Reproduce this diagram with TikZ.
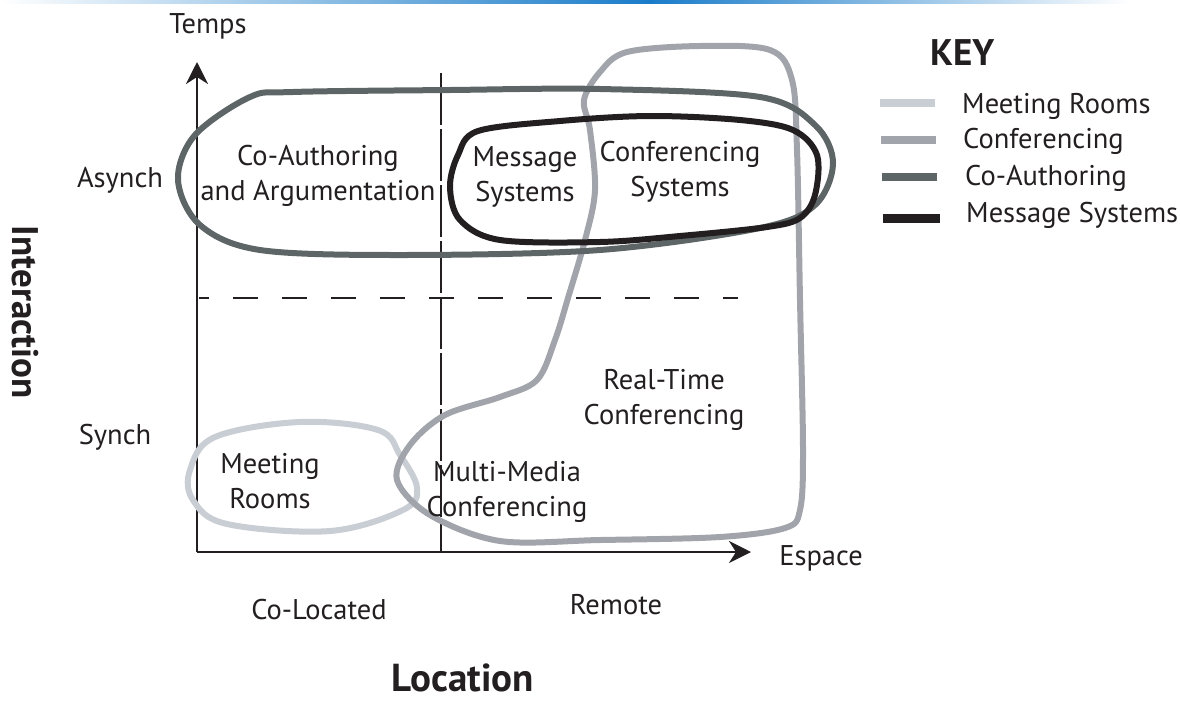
\documentclass[tikz,border=0pt]{standalone}
\usepackage{fontspec}
\setmainfont{PT Sans}
\usetikzlibrary{arrows.meta}
\definecolor{inkc}{HTML}{231F20}
\definecolor{meetc}{HTML}{C9CDD4}
\definecolor{confc}{HTML}{A1A5AB}
\definecolor{coauc}{HTML}{5D6566}
\definecolor{topblue}{HTML}{1A7CC9}
\tikzset{
  lbl/.style={inner sep=0pt, align=center, text=inkc, font=\fontsize{28.5}{35}\selectfont},
  keylbl/.style={inner sep=0pt, anchor=base west, text=inkc, font=\fontsize{28.5}{35}\selectfont},
  bigbold/.style={inner sep=0pt, text=inkc, font=\fontsize{37}{42}\selectfont\bfseries},
  axis/.style={draw=inkc, line width=2.6pt, -{Stealth[length=22pt, width=22pt, inset=7pt]}},
  loopline/.style={line width=6pt, line join=round, line cap=round},
  keyline/.style={line width=8pt},
}
\begin{document}
\begin{tikzpicture}[x=1pt, y=-1pt]
\useasboundingbox (0,0) rectangle (1180,702);
% top gradient rule
\shade[left color=white, right color=topblue] (0,0) rectangle (650,3);
\shade[left color=topblue, right color=white] (650,0) rectangle (1130,3);

% axes
\coordinate (o) at (197,552);
\coordinate (ytip) at (197,62);
\coordinate (xtip) at (751,552);
\draw[axis] (o) -- (ytip);
\draw[axis] (o) -- (xtip);
\coordinate (vtop) at (441,73);
\coordinate (vbot) at (441,552);
\draw[draw=inkc, line width=2pt, dash pattern=on 52pt off 4pt] (vtop) -- (vbot);
\coordinate (hl) at (199,298);
\coordinate (hr) at (738,298);
\draw[draw=inkc, line width=2pt, dash pattern=on 10pt off 24pt on 25pt off 24pt on 25pt off 24pt on 25pt off 24pt on 25pt off 24pt on 25pt off 24pt on 25pt off 24pt on 25pt off 24pt on 25pt off 24pt on 25pt off 24pt on 25pt off 24pt on 25pt off 24pt] (hl) -- (hr);

% Meeting Rooms loop
\draw[loopline, meetc] plot[smooth cycle, tension=0.6] coordinates {
 (215,437) (300,422) (378,430) (400,455) (417,488) (403,510) (330,531) (227,524) (193,500) (190,470)};
% Conferencing loop
\draw[loopline, confc] plot[smooth cycle, tension=0.55] coordinates {
 (627,52) (700,46) (770,50) (792,80) (797,150) (800,300) (803,450) (800,510) (785,528) (720,537) (600,540) (500,541) (430,515) (397,480) (410,445) (445,415) (500,397) (537,380) (555,340) (568,298) (585,240) (595,190) (590,130) (584,100) (600,72)};
% Co-Authoring loop
\draw[loopline, coauc] plot[smooth cycle, tension=0.55] coordinates {
 (250,97) (293,92) (450,90) (600,89) (760,97) (815,125) (833,163) (815,205) (760,228) (600,250) (400,255) (260,250) (200,225) (178,180) (195,135)};
% Message Systems loop
\draw[loopline, inkc] plot[smooth cycle, tension=0.55] coordinates {
 (478,131) (560,121) (650,116) (740,120) (793,130) (817,155) (815,195) (800,218) (767,227) (680,236) (600,242) (500,240) (460,220) (450,187) (458,155)};

% labels
\node[lbl] (temps) at (208,26) {Temps};
\node[lbl] (asynch) at (120,180) {Asynch};
\node[lbl] (synch) at (115,437) {Synch};
\node[lbl] (espace) at (821,558) {Espace};
\node[lbl] (coloc) at (319,610) {Co-Located};
\node[lbl] (remote) at (616,605) {Remote};
\node[bigbold, font=\fontsize{39}{44}\selectfont\bfseries, anchor=base, text depth=0pt] (location) at (463,691) {Location};
\node[bigbold, rotate=-90] (interaction) at (25,312) {Interaction};

\node[lbl] (coauth) at (318,176) {Co-Authoring\\and Argumentation};
\node[lbl] (msgsys) at (525,177) {Message\\Systems};
\node[lbl] (confsys) at (680,172) {Conferencing\\Systems};
\node[lbl] (rtconf) at (664,400) {Real-Time\\Conferencing};
\node[lbl] (mmconf) at (507,492) {Multi-Media\\Conferencing};
\node[lbl] (meet) at (270,481) {Meeting\\Rooms};

% key
\node[bigbold, anchor=base west] (key) at (930,65) {KEY};
\coordinate (k1a) at (880,103); \coordinate (k1b) at (935,103);
\coordinate (k2a) at (881,140); \coordinate (k2b) at (936,140);
\coordinate (k3a) at (882,177); \coordinate (k3b) at (937,177);
\coordinate (k4a) at (883,218); \coordinate (k4b) at (940,218);
\draw[keyline, meetc] (k1a) -- (k1b);
\draw[keyline, confc] (k2a) -- (k2b);
\draw[keyline, coauc] (k3a) -- (k3b);
\draw[keyline, inkc, line width=9pt] (k4a) -- (k4b);
\node[keylbl] (kmeet) at (962,113) {Meeting Rooms};
\node[keylbl] (kconf) at (963,148) {Conferencing};
\node[keylbl] (kcoau) at (965,185) {Co-Authoring};
\node[keylbl] (kmsg) at (966,222) {Message Systems};
\end{tikzpicture}
\end{document}
